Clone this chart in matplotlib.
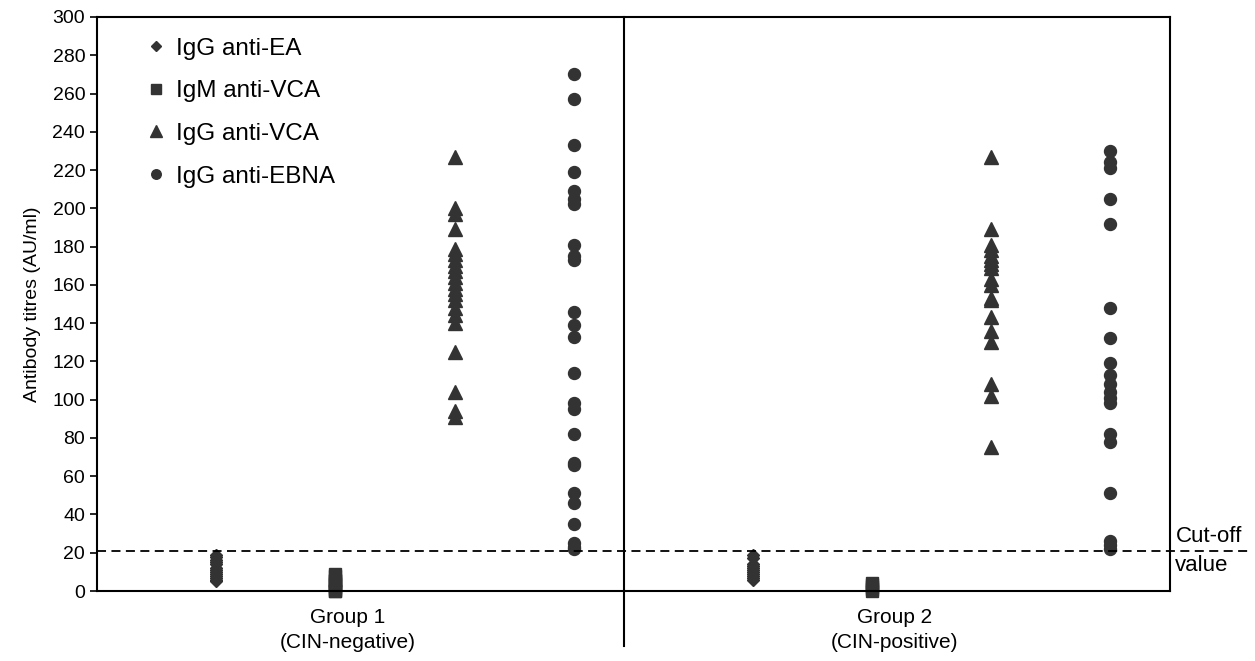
import numpy as np
import matplotlib.pyplot as plt
import matplotlib.transforms as mtransforms

plt.rcParams['font.family'] = ['Liberation Sans', 'DejaVu Sans']

# antibody titres (AU/ml)
g1_ea = [19, 18, 16, 15, 14, 12, 11, 10, 9, 8, 7, 6, 5]
g1_igm = [9, 8, 6, 5, 4, 3, 2, 1, 0, 0]
g1_vca = [227, 200, 197, 189, 179, 176, 173, 170, 167, 164, 161, 158, 155,
          152, 148, 144, 140, 125, 104, 94, 91]
g1_ebna = [270, 257, 233, 219, 209, 205, 202, 181, 175, 173, 146, 139, 133,
           114, 98, 95, 82, 67, 66, 51, 46, 35, 25, 23, 22]

g2_ea = [19, 17, 14, 13, 12, 11, 10, 9, 8, 7, 6]
g2_igm = [4, 3, 2, 1, 0]
g2_vca = [227, 189, 181, 178, 175, 173, 171, 169, 163, 160, 153, 152, 143,
          136, 130, 108, 102, 75]
g2_ebna = [230, 224, 221, 205, 192, 148, 132, 119, 113, 108, 104, 101, 98,
           82, 78, 51, 26, 24, 22]

series = ['IgG anti-EA', 'IgM anti-VCA', 'IgG anti-VCA', 'IgG anti-EBNA']
markers = ['D', 's', '^', 'o']
msizes = [6.5, 9, 10.5, 8.6]
groups = ['Group 1\n(CIN-negative)', 'Group 2\n(CIN-positive)']
cutoff = 21

data = [[g1_ea, g1_igm, g1_vca, g1_ebna], [g2_ea, g2_igm, g2_vca, g2_ebna]]
col = '#333333'

fig = plt.figure(figsize=(12.55, 6.61), dpi=100)
ax = fig.add_axes([0.0773, 0.1059, 0.855, 0.8684])

for gi, gdata in enumerate(data):
    start = 1 + gi * 4.5
    for si, vals in enumerate(gdata):
        x = np.full(len(vals), start + si)
        ax.plot(x, vals, linestyle='none', marker=markers[si], ms=msizes[si],
                color=col, mec=col, clip_on=False,
                label=series[si] if gi == 0 else None)

ax.set_xlim(0, 9)
ax.set_ylim(0, 300)
ax.set_yticks(np.arange(0, 301, 20))
ax.tick_params(axis='y', labelsize=14, length=5, width=1.2, direction='out')
ax.set_xticks([2.1, 6.69])
ax.set_xticklabels(groups, fontsize=15, linespacing=1.4)
ax.tick_params(axis='x', length=0, pad=12)
ax.set_ylabel('Antibody titres (AU/ml)', fontsize=14, labelpad=8)
for s in ax.spines.values():
    s.set_linewidth(1.5)

# group divider and cut-off line
trans = mtransforms.blended_transform_factory(ax.transData, ax.transAxes)
ax.plot([4.42, 4.42], [-0.096, 1], transform=trans, color='black', lw=1.5,
        clip_on=False)
trans2 = mtransforms.blended_transform_factory(ax.transAxes, ax.transData)
ax.plot([0, 1.0746], [cutoff, cutoff], transform=trans2, color='black',
        lw=1.3, ls=(0, (5, 3)), clip_on=False)
ax.annotate('Cut-off', (1.005, cutoff), xycoords=trans2,
            xytext=(0, 6.5), textcoords='offset points',
            fontsize=16, va='baseline', ha='left')
ax.annotate('value', (1.005, cutoff), xycoords=trans2,
            xytext=(0, -14.5), textcoords='offset points',
            fontsize=16, va='baseline', ha='left')

ax.legend(loc='upper left', frameon=False, fontsize=17.5, handlelength=0.5,
          handletextpad=0.6, labelspacing=0.85, borderaxespad=0,
          bbox_to_anchor=(0.04, 0.981), markerscale=0.8)

fig.savefig('out.png', dpi=100)
